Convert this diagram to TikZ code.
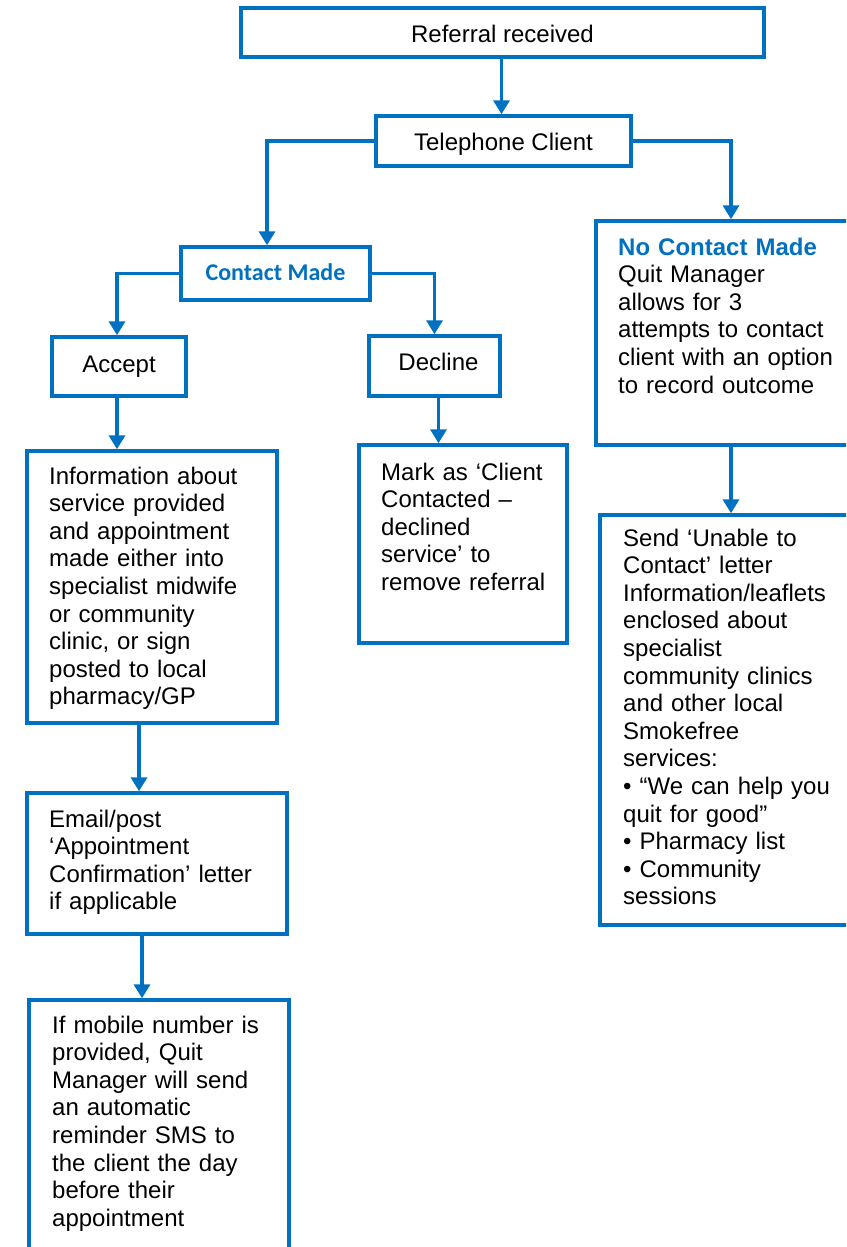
\documentclass[tikz,border=0pt]{standalone}
\usepackage{fontspec}
\setmainfont{Liberation Sans}
\newfontfamily\calfont{Carlito}
\usetikzlibrary{arrows.meta}
\definecolor{flowblue}{HTML}{0070C0}
\begin{document}
\begin{tikzpicture}[x=1pt,y=-1pt,
  every node/.style={font=\fontsize{24}{27.6}\selectfont},
  box/.style={draw=flowblue, line width=3.5pt, inner sep=0pt, text height=20pt},
  txt/.style={anchor=base west, inner sep=0pt, text width=250pt, align=left},
  arr/.style={draw=flowblue, line width=3.5pt, -{Triangle[width=16pt,length=14pt]}}]
\useasboundingbox (0,0) rectangle (846,1247);
\clip (0,0) rectangle (846,1247);
% boxes
\node[box, minimum width=523pt, minimum height=49pt, text depth=0pt] (ref) at (502.5,32.5) {Referral received};
\node[box, minimum width=255pt, minimum height=50pt, text depth=2pt] (tel) at (503.5,141) {Telephone Client};
\node[box, minimum width=189pt, minimum height=53pt, text depth=7pt, text=flowblue,
  font=\calfont\bfseries\fontsize{24}{27.6}\selectfont] (cm) at (275.5,273.5) {Contact Made};
\node[box, minimum width=134pt, minimum height=59pt, text depth=9pt] (acc) at (119,366.5) {Accept};
\node[box, minimum width=131pt, minimum height=60pt, text depth=12pt] (dec) at (434.5,366) {\hspace*{8pt}Decline};
\node[box, minimum width=250pt, minimum height=272pt] (info) at (152,587) {};
\node[box, minimum width=208pt, minimum height=198pt] (mark) at (463,544) {};
\node[box, minimum width=274pt, minimum height=224pt] (nc) at (733,333) {};
\node[box, minimum width=270pt, minimum height=410pt] (send) at (735,720) {};
\node[box, minimum width=260pt, minimum height=141pt] (email) at (157,863.5) {};
\node[box, minimum width=260pt, minimum height=280pt] (mob) at (159,1140) {};
% texts
\node[txt] (infot) at (49,484) {Information about\\service provided\\and appointment\\made either into\\specialist midwife\\or community\\clinic, or sign\\posted to local\\pharmacy/GP};
\node[txt] (markt) at (381,480) {Mark as ‘Client\\Contacted –\\declined\\service’ to\\remove referral};
\node[txt] (nct) at (618,255) {\textcolor{flowblue}{\bfseries No Contact Made}\\Quit Manager\\allows for 3\\attempts to contact\\client with an option\\to record outcome};
\node[txt] (sendt) at (623,546) {Send ‘Unable to\\Contact’ letter\\Information/leaflets\\enclosed about\\specialist\\community clinics\\and other local\\Smokefree\\services:\\• “We can help you\\quit for good”\\• Pharmacy list\\• Community\\sessions};
\node[txt] (emailt) at (49,827) {Email/post\\‘Appointment\\Confirmation’ letter\\if applicable};
\node[txt] (mobt) at (52,1033) {If mobile number is\\provided, Quit\\Manager will send\\an automatic\\reminder SMS to\\the client the day\\before their\\appointment};
% connectors
\draw[arr] ([xshift=-1pt]ref.south) -- ([xshift=-1pt]ref.south |- tel.north);
\draw[arr] (tel.west) -| ([xshift=-8.5pt]cm.north);
\draw[arr] (tel.east) -| ([xshift=-2pt]nc.north);
\draw[arr] (cm.west) -| ([xshift=-2pt]acc.north);
\draw[arr] (cm.east) -| (dec.north);
\draw[arr] ([xshift=-2pt]acc.south) -- ([xshift=-2pt]acc.south |- info.north);
\draw[arr] ([xshift=4pt]dec.south) -- ([xshift=4pt]dec.south |- mark.north);
\draw[arr] ([xshift=-2pt]nc.south) -- ([xshift=-2pt]nc.south |- send.north);
\draw[arr] ([xshift=-13pt]info.south) -- ([xshift=-13pt]info.south |- email.north);
\draw[arr] ([xshift=-15pt]email.south) -- ([xshift=-15pt]email.south |- mob.north);
\end{tikzpicture}
\end{document}
